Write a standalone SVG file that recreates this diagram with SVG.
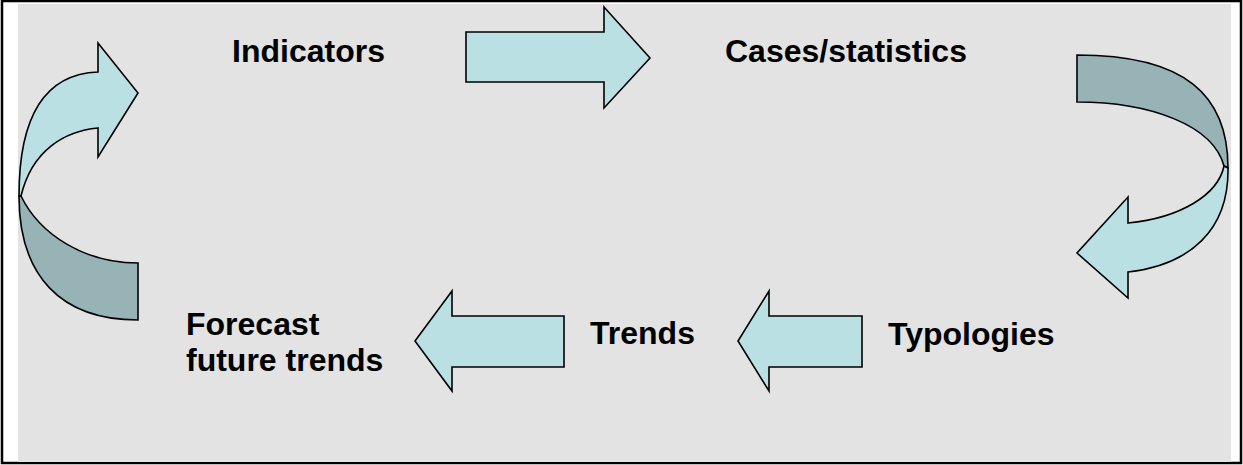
<svg xmlns="http://www.w3.org/2000/svg" width="1243" height="465" viewBox="0 0 1243 465">
<style>
.lt{fill:#BBE0E3;stroke:#000;stroke-width:1.6;stroke-linejoin:miter}
.dk{fill:#97B3B6;stroke:#000;stroke-width:1.6}
.t{font-family:"Liberation Sans",Arial,sans-serif;font-weight:bold;font-size:32px;fill:#000}
</style>
<rect x="2" y="1" width="1239" height="462" fill="#fff" stroke="#000" stroke-width="2.5"/>
<rect x="18" y="4" width="1213" height="458" fill="#E3E3E3"/>
<g id="connectors">
<g id="arrow-top"><path class="lt" d="M466 32 L604 32 L604 7 L650 58 L604 108 L604 82 L466 82 Z"/></g>
<g id="arrow-right-curved">
<path class="dk" d="M1077 55 C1185 55 1228 95 1228 168 L1224 166 C1213 125 1150 102 1077 102 Z"/>
<path class="lt" d="M1224 166 C1218 195 1180 218 1128 223 L1128 197 L1077 253 L1128 298 L1128 272 C1190 265 1229 230 1228 168 Z"/>
</g>
<g id="arrow-bottom-right"><path class="lt" d="M862 316 L769 316 L769 291 L738 341 L769 391 L769 367 L862 367 Z"/></g>
<g id="arrow-bottom-left"><path class="lt" d="M564 316 L452 316 L452 291 L415 341 L452 391 L452 367 L564 367 Z"/></g>
<g id="arrow-left-curved">
<path class="dk" d="M21 196 C40 235 85 263 138 263 L138 320 C60 320 19 275 19 196 Z"/>
<path class="lt" d="M98 72 L98 43 L138 93 L98 157 L98 128 C65 131 32 150 21 196 L19 196 C19 115 45 74 98 72 Z"/>
</g>
</g>
<g id="node-indicators"><text class="t" x="232" y="62">Indicators</text></g>
<g id="node-cases"><text class="t" x="725" y="62">Cases/statistics</text></g>
<g id="node-typologies"><text class="t" x="888" y="345">Typologies</text></g>
<g id="node-trends"><text class="t" x="590" y="344">Trends</text></g>
<g id="node-forecast"><text class="t" x="186" y="335">Forecast</text><text class="t" x="186" y="371">future trends</text></g>
</svg>
